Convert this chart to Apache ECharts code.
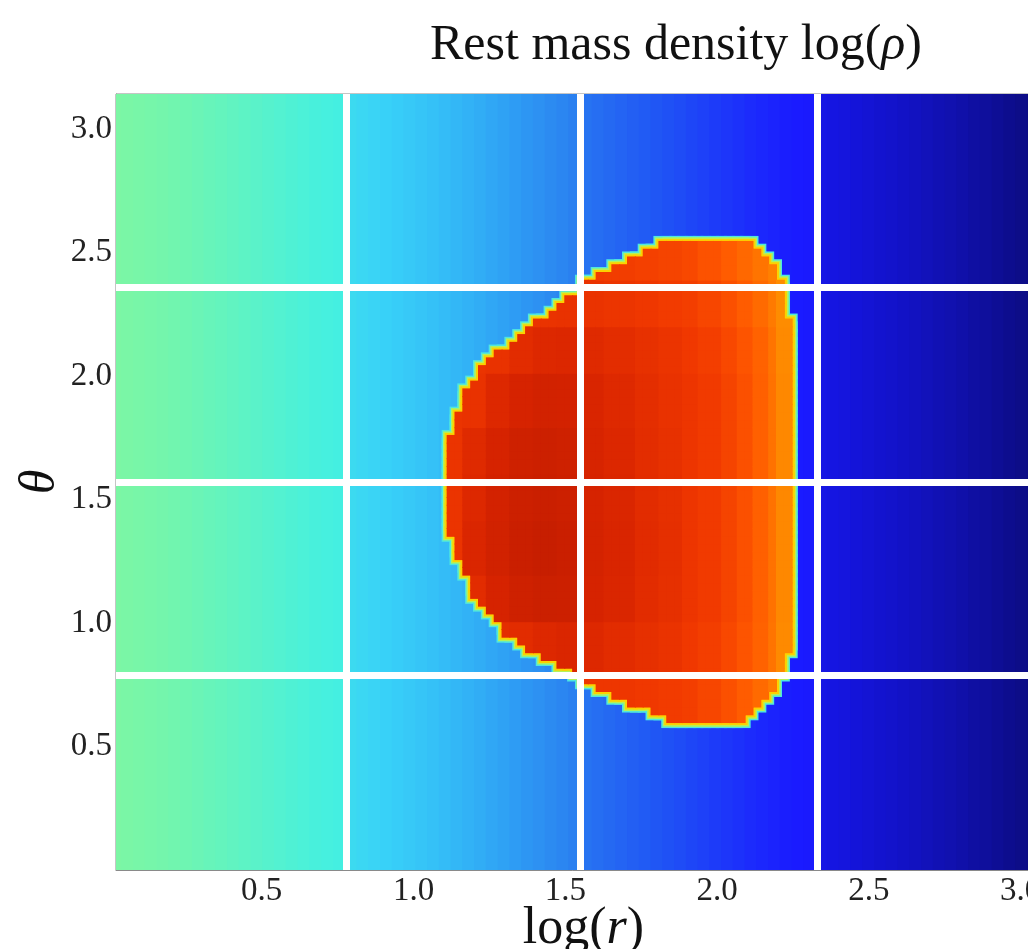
<!DOCTYPE html>
<html>
<head>
<meta charset="utf-8">
<script src="https://cdn.jsdelivr.net/npm/echarts@6/dist/echarts.min.js"></script>
<style>
html, body { margin: 0; padding: 0; background: #fff; }
#main { width: 1028px; height: 949px; }
</style>
</head>
<body>
<div id="main"></div>
<script>
// axis ranges and tick labels
var rRange = [0.02, 3.1];
var thetaRange = [0, Math.PI];
var xTicks = [0.5, 1.0, 1.5, 2.0, 2.5, 3.0];
var yTicks = [0.5, 1.0, 1.5, 2.0, 2.5, 3.0];

// white seams between the mesh blocks
var gapR = [0.775, 1.55, 2.325];
var gapTheta = [0.785, 1.571, 2.356];

// atmosphere log(rho), one value per radial strip (strip width 0.03875, from r = 0)
var bgRho = [
  -5.32, -5.35, -5.38, -5.41, -5.44, -5.48, -5.52, -5.56, -5.6, -5.64,
  -5.68, -5.72, -5.76, -5.8, -5.84, -5.88, -5.92, -5.96, -5.99, -6.02,
  -6.34, -6.39, -6.44, -6.49, -6.54, -6.59, -6.64, -6.69, -6.75, -6.81,
  -6.87, -6.94, -7.01, -7.08, -7.15, -7.22, -7.29, -7.36, -7.43, -7.5,
  -7.64, -7.69, -7.74, -7.79, -7.84, -7.89, -7.94, -7.99, -8.04, -8.09,
  -8.14, -8.19, -8.24, -8.29, -8.34, -8.38, -8.42, -8.46, -8.49, -8.52,
  -8.84, -8.89, -8.94, -8.99, -9.04, -9.09, -9.14, -9.19, -9.25, -9.31,
  -9.37, -9.43, -9.49, -9.55, -9.61, -9.67, -9.73, -9.79, -9.85, -9.91
];

// torus outline [log r, theta]
var torusOutline = [
  [1.10, 1.57], [1.105, 1.70], [1.14, 1.83], [1.185, 1.96], [1.25, 2.07],
  [1.38, 2.19], [1.54, 2.34], [1.57, 2.39], [1.70, 2.47], [1.79, 2.515],
  [1.855, 2.55], [2.085, 2.55], [2.175, 2.46], [2.21, 2.38], [2.22, 2.24],
  [2.25, 2.22], [2.25, 0.92], [2.22, 0.86], [2.21, 0.78], [2.19, 0.74],
  [2.155, 0.69], [2.085, 0.60], [1.87, 0.60], [1.79, 0.635], [1.68, 0.685],
  [1.57, 0.75], [1.515, 0.80], [1.38, 0.895], [1.32, 0.935], [1.21, 1.09],
  [1.14, 1.29], [1.105, 1.44]
];

// torus log(rho) on a coarse grid: rows = torusTheta, columns = torusR
var torusR = [1.12, 1.20, 1.28, 1.36, 1.44, 1.52, 1.60, 1.68, 1.76, 1.84, 1.92, 1.98, 2.04, 2.09, 2.14, 2.18, 2.22, 2.25];
var torusTheta = [0.7, 0.9, 1.1, 1.3, 1.5, 1.7, 1.9, 2.1, 2.3, 2.5];
var torusRho = [
  [-1.45, -1.45, -1.45, -1.45, -1.45, -1.45, -1.45, -1.45, -1.5, -1.55, -1.6, -1.72, -1.88, -2.05, -2.22, -2.42, -2.68, -3.0],
  [-1.3, -1.3, -1.25, -1.2, -1.1, -1.05, -1.1, -1.2, -1.3, -1.38, -1.5, -1.6, -1.75, -1.93, -2.13, -2.35, -2.65, -3.0],
  [-1.4, -1.2, -0.95, -0.8, -0.72, -0.75, -0.95, -1.05, -1.2, -1.3, -1.43, -1.53, -1.68, -1.88, -2.1, -2.33, -2.63, -3.0],
  [-1.4, -1.05, -0.85, -0.7, -0.65, -0.7, -0.92, -1.03, -1.18, -1.28, -1.43, -1.53, -1.68, -1.88, -2.1, -2.33, -2.63, -3.0],
  [-1.4, -1.1, -0.9, -0.75, -0.7, -0.75, -0.95, -1.05, -1.2, -1.3, -1.43, -1.53, -1.68, -1.88, -2.1, -2.33, -2.63, -3.0],
  [-1.4, -1.15, -0.95, -0.8, -0.75, -0.8, -0.98, -1.08, -1.22, -1.32, -1.43, -1.53, -1.68, -1.88, -2.1, -2.33, -2.63, -3.0],
  [-1.4, -1.35, -1.1, -0.95, -0.88, -0.9, -1.02, -1.12, -1.25, -1.35, -1.43, -1.53, -1.68, -1.88, -2.1, -2.33, -2.63, -3.0],
  [-1.4, -1.4, -1.35, -1.2, -1.1, -1.08, -1.15, -1.22, -1.32, -1.4, -1.5, -1.6, -1.75, -1.93, -2.13, -2.35, -2.65, -3.0],
  [-1.45, -1.45, -1.45, -1.42, -1.38, -1.35, -1.38, -1.42, -1.48, -1.55, -1.6, -1.72, -1.88, -2.05, -2.22, -2.42, -2.68, -3.0],
  [-1.55, -1.55, -1.55, -1.55, -1.55, -1.55, -1.55, -1.58, -1.62, -1.68, -1.75, -1.9, -2.05, -2.2, -2.35, -2.5, -2.7, -3.0]
];

// jet-like colour scale as it looks in the picture (evenly spaced over log(rho) -10 .. 0)
var rhoColors = [
  '#0a0a70', '#1010a8', '#1414d8', '#1a1aff', '#1f50f5', '#2a80f0', '#30a8f5',
  '#38d0f8', '#45f0e0', '#70f5b0', '#90f890', '#c0f860', '#e8f030', '#f8d000',
  '#fca000', '#ff8000', '#ff5800', '#f03800', '#d82400', '#c01c00', '#901000'
];

var STRIP = 0.03875;
var DR = 0.775 / 30;
var DTH = Math.PI / 100;

function insideOutline(x, y) {
  var inside = false;
  for (var i = 0, j = torusOutline.length - 1; i < torusOutline.length; j = i++) {
    var xi = torusOutline[i][0], yi = torusOutline[i][1];
    var xj = torusOutline[j][0], yj = torusOutline[j][1];
    if (((yi > y) != (yj > y)) && (x < (xj - xi) * (y - yi) / (yj - yi) + xi)) inside = !inside;
  }
  return inside;
}

function nearestIdx(arr, v) {
  var best = 0;
  for (var k = 1; k < arr.length; k++) {
    if (Math.abs(arr[k] - v) < Math.abs(arr[best] - v)) best = k;
  }
  return best;
}

// [value, r0, r1, theta0, theta1]
var bgData = bgRho.map(function (v, i) {
  return [v, i * STRIP, (i + 1) * STRIP, thetaRange[0], thetaRange[1]];
});

var torusData = [];
for (var i = Math.floor(1.0 / DR); i < Math.ceil(2.35 / DR); i++) {
  for (var j = Math.floor(0.5 / DTH); j < Math.ceil(2.7 / DTH); j++) {
    var rc = (i + 0.5) * DR, tc = (j + 0.5) * DTH;
    if (!insideOutline(rc, tc)) continue;
    var v = torusRho[nearestIdx(torusTheta, tc)][nearestIdx(torusR, rc)];
    torusData.push([v, i * DR, (i + 1) * DR, j * DTH, (j + 1) * DTH]);
  }
}

function makeRender(pad, fixedColor) {
  return function (params, api) {
    var a = api.coord([api.value(1), api.value(4)]);
    var b = api.coord([api.value(2), api.value(3)]);
    var cs = params.coordSys;
    var rect = echarts.graphic.clipRectByRect({
      x: a[0] - pad - 0.5,
      y: a[1] - pad - 0.5,
      width: b[0] - a[0] + 2 * pad + 1,
      height: b[1] - a[1] + 2 * pad + 1
    }, { x: cs.x, y: cs.y, width: cs.width, height: cs.height });
    if (!rect) return;
    return {
      type: 'rect',
      shape: rect,
      style: { fill: fixedColor || api.visual('color') }
    };
  };
}

function cellSeries(data, pad, color) {
  return {
    type: 'custom',
    data: data,
    encode: { x: [1, 2], y: [3, 4] },
    renderItem: makeRender(pad, color),
    silent: true,
    progressive: 0,
    animation: false
  };
}

var gapLines = gapR.map(function (v) { return { xAxis: v }; })
  .concat(gapTheta.map(function (v) { return { yAxis: v }; }));

var serif = 'Liberation Serif';
var myChart = echarts.init(document.getElementById('main'));
myChart.setOption({
  animation: false,
  graphic: [{
    type: 'text',
    x: 676,
    y: 46,
    style: {
      text: '{a|Rest mass density log(}{i|ρ}{a|)}',
      align: 'center',
      verticalAlign: 'middle',
      rich: {
        a: { fontFamily: serif, fontSize: 50, fill: '#111' },
        i: { fontFamily: serif, fontSize: 50, fontStyle: 'italic', fill: '#111' }
      }
    }
  }],
  grid: {
    left: 116, right: -23, top: 94, bottom: 79,
    containLabel: false,
    outerBoundsMode: 'none',
    show: true, borderColor: '#8a8a8a', borderWidth: 1, backgroundColor: 'transparent'
  },
  visualMap: {
    type: 'continuous',
    show: false,
    min: -10,
    max: 0,
    dimension: 0,
    seriesIndex: [0, 4],
    inRange: { color: rhoColors }
  },
  xAxis: {
    type: 'value',
    min: rRange[0],
    max: rRange[1],
    splitLine: { show: false },
    axisLine: { show: true, lineStyle: { color: '#8a8a8a', width: 1 } },
    axisTick: { show: false },
    axisLabel: {
      customValues: xTicks,
      formatter: function (v) { return v.toFixed(1); },
      fontFamily: serif, fontSize: 33, color: '#222', margin: 5
    },
    name: '{a|log(}{i|r}{a|)}',
    nameLocation: 'middle',
    nameMoveOverlap: false,
    nameGap: 33,
    nameTextStyle: {
      rich: {
        a: { fontFamily: serif, fontSize: 52, color: '#111' },
        i: { fontFamily: serif, fontSize: 52, fontStyle: 'italic', color: '#111' }
      }
    }
  },
  yAxis: {
    type: 'value',
    min: thetaRange[0],
    max: thetaRange[1],
    splitLine: { show: false },
    axisLine: { show: true, lineStyle: { color: '#8a8a8a', width: 1 } },
    axisTick: { show: false },
    axisLabel: {
      customValues: yTicks,
      formatter: function (v) { return v.toFixed(1); },
      fontFamily: serif, fontSize: 33, color: '#222', margin: 4
    },
    name: 'θ',
    nameLocation: 'middle',
    nameRotate: 90,
    nameMoveOverlap: false,
    nameGap: 50,
    nameTextStyle: { fontFamily: serif, fontSize: 50, fontStyle: 'italic', color: '#111' }
  },
  series: [
    cellSeries(bgData, 0),
    cellSeries(torusData, 5, '#4ee6e0'),
    cellSeries(torusData, 3.5, '#b4f25a'),
    cellSeries(torusData, 2, '#fcd200'),
    cellSeries(torusData, 0),
    {
      type: 'line',
      data: [],
      z: 10,
      markLine: {
        silent: true,
        symbol: 'none',
        animation: false,
        label: { show: false },
        lineStyle: { color: '#ffffff', width: 7, type: 'solid' },
        emphasis: { disabled: true },
        data: gapLines
      }
    }
  ]
});

window.addEventListener('resize', function () {
  myChart.resize();
});
</script>
</body>
</html>
